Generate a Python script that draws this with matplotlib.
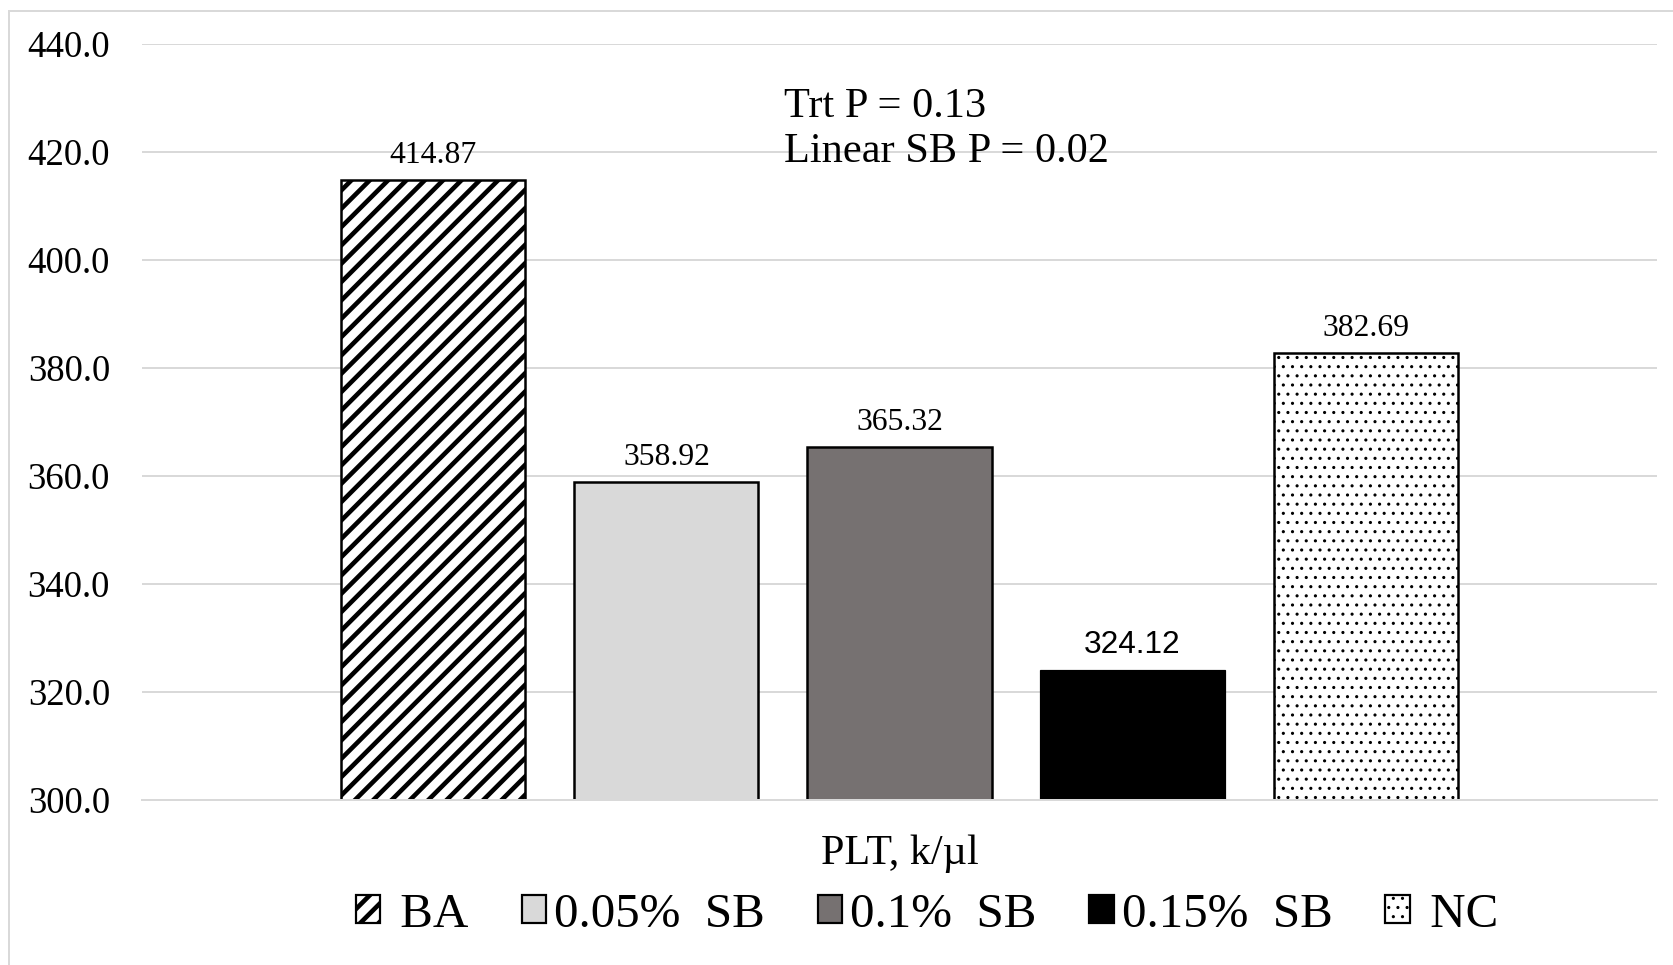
import matplotlib.pyplot as plt
from matplotlib.patches import Rectangle

# PLT values per treatment
categories = [" BA", "0.05%  SB", "0.1%  SB", "0.15%  SB", " NC"]
values = [414.87, 358.92, 365.32, 324.12, 382.69]
value_labels = ["414.87", "358.92", "365.32", "324.12", "382.69"]
y_ticks = [300, 320, 340, 360, 380, 400, 420, 440]
stats_lines = ["Trt P = 0.13", "Linear SB P = 0.02"]
x_title = "PLT, k/\u00b5l"

DPI = 110


def px(n):
    # sizes below are given in output pixels
    return n * 72 / DPI


fills = ["white", "#d9d9d9", "#767171", "black", "white"]
hatches = ["//", None, None, None, ".."]
hatch_widths = [px(4.6), px(1.2), px(1.2), px(1.2), px(1.3)]
edge_widths = [px(2.5), px(2.5), px(2.5), px(1.2), px(2.5)]
label_fonts = ["Liberation Serif", "Liberation Serif", "Liberation Serif",
               "Liberation Sans", "Liberation Serif"]

plt.rcParams["font.family"] = ["Liberation Serif", "DejaVu Serif"]
grid_gray = "#d9d9d9"


def set_hatch_width(patch, lw):
    # per-patch hatch width; fall back to rcParams at draw time
    if hasattr(patch, "_hatch_linewidth"):
        patch._hatch_linewidth = lw
    orig_draw = patch.draw

    def draw(renderer):
        with plt.rc_context({"hatch.linewidth": lw}):
            orig_draw(renderer)
    patch.draw = draw


fig = plt.figure(figsize=(1673 / DPI, 965 / DPI), dpi=DPI)
ax = fig.add_axes([0.0849, 0.171, 0.9055, 0.7834])

x = list(range(len(values)))
bars = []
for i in x:
    with plt.rc_context({"hatch.linewidth": hatch_widths[i]}):
        b = ax.bar(x[i], values[i], width=0.79, color=fills[i],
                   edgecolor="black", linewidth=edge_widths[i],
                   hatch=hatches[i], label=categories[i], zorder=2)[0]
    set_hatch_width(b, hatch_widths[i])
    bars.append(b)
    ax.annotate(value_labels[i], (x[i], values[i]), xytext=(0, px(17)),
                textcoords="offset points", ha="center", va="baseline",
                fontsize=px(31.7), family=label_fonts[i])

ax.set_xlim(-1.25, 5.25)
ax.set_ylim(300, 440)
ax.set_yticks(y_ticks)
ax.set_yticklabels([f"{v:.1f}" for v in y_ticks])
ax.set_xticks([])
ax.tick_params(axis="y", length=0, pad=px(32), labelsize=px(36.8))

ax.yaxis.grid(True, color=grid_gray, linewidth=px(2))
ax.set_axisbelow(True)
for side in ["left", "right", "top"]:
    ax.spines[side].set_visible(False)
ax.spines["bottom"].set_color(grid_gray)
ax.spines["bottom"].set_linewidth(px(2))
ax.spines["bottom"].set_zorder(3)

ax.text(0.424, 426.5, stats_lines[0], transform=ax.get_yaxis_transform(),
        ha="left", va="baseline", fontsize=px(42.4))
ax.text(0.424, 418.1, stats_lines[1], transform=ax.get_yaxis_transform(),
        ha="left", va="baseline", fontsize=px(42.4))

ax.text(0.5, -0.085, x_title, transform=ax.transAxes, ha="center",
        va="baseline", fontsize=px(42.2))

leg = fig.legend(handles=bars, labels=categories, loc="center",
                 bbox_to_anchor=(0.554, 0.052), ncol=5, frameon=False,
                 fontsize=px(49), handlelength=0.5, handleheight=0.5,
                 handletextpad=0.16, columnspacing=1.08, borderaxespad=0)
for h, w in zip(leg.legend_handles, hatch_widths):
    h.set_linewidth(px(2.2))
    set_hatch_width(h, w)

# chart area outline (top and left edges only show)
fig.add_artist(Rectangle((9 / 1673, -0.1), 1.2, 1 - 11 / 965 + 0.1,
                         transform=fig.transFigure, fill=False,
                         edgecolor=grid_gray, linewidth=px(2)))

fig.savefig("out.png", dpi=DPI)
